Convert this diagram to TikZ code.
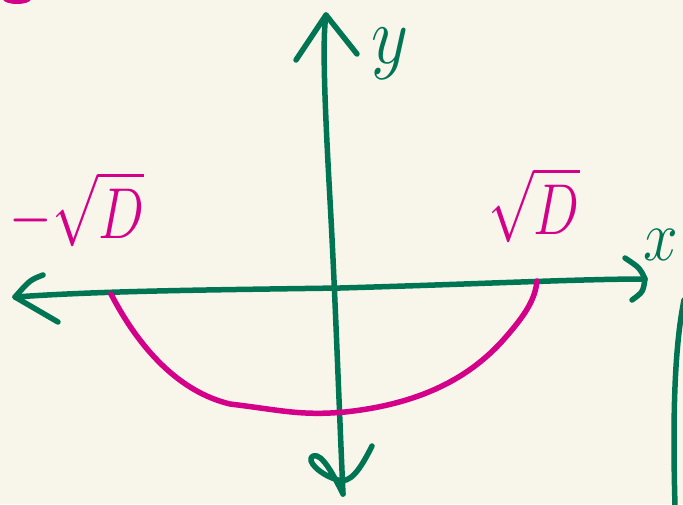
\documentclass[tikz,border=0pt]{standalone}
\usepackage{amsmath}
\usepackage{graphicx}
\usepackage{tikz}
\usetikzlibrary{positioning}
\definecolor{paper}{RGB}{248,246,234}
\definecolor{inkgreen}{RGB}{0,117,84}
\definecolor{inkpink}{RGB}{212,0,138}
\tikzset{
  axisline/.style={draw=inkgreen, line width=5.5pt, line cap=round, line join=round},
  arc/.style={draw=inkpink, line width=5.5pt, line cap=round, line join=round},
  axislabel/.style={text=inkgreen, inner sep=1pt, font=\Huge},
  rootlabel/.style={text=inkpink, inner sep=0pt, font=\Huge}
}

\begin{document}
\begin{tikzpicture}[x=1pt, y=-1pt]
  \fill[paper] (0,0) rectangle (683,504);
  \useasboundingbox (0,0) rectangle (683,504);
  % axes
  \coordinate (ytop) at (326,15);
  \coordinate (ybot) at (343,494);
  \coordinate (xleft) at (15,297);
  \coordinate (xright) at (645,279);
  \draw[axisline] (ybot) .. controls (338,380) and (335,290) .. (330,200)
                 .. controls (325,110) and (322,40) .. (ytop);
  \draw[axisline] (xleft) .. controls (100,291) and (200,290) .. (340,288)
                 .. controls (480,284) and (580,279) .. (xright);
  % arrow heads
  \draw[axisline] (296,60) -- (ytop) -- (357,54);
  \draw[axisline] (43,275) .. controls (30,280) .. (xleft) -- (58,322);
  \draw[axisline] (625,258) .. controls (640,268) .. (xright) .. controls (643,292) .. (632,300);
  \draw[axisline] (372,446) .. controls (360,470) and (350,484) .. (338,480)
                 .. controls (320,475) and (305,460) .. (313,456)
                 .. controls (322,452) and (335,478) .. (ybot);
  % lower half circle
  \draw[arc] (111,294) .. controls (140,350) and (180,392) .. (230,404)
            .. controls (280,410) and (300,416) .. (345,412)
            .. controls (420,404) and (470,378) .. (505,338)
            .. controls (525,315) and (535,300) .. (537,281);
  % stray marks at the edges
  \begin{scope}
    \clip (0,0) rectangle (683,504);
    \fill[inkpink] (17,-1) ellipse [x radius=14, y radius=5];
    \draw[axisline] (684,300) .. controls (676,340) and (672,400) .. (675,506);
  \end{scope}
  % labels
  \node[axislabel] (ylab) at (390,54) {\scalebox{2.9}[3.3]{$y$}};
  \node[axislabel] (xlab) at (661,245) {\scalebox{2.5}[2.9]{$x$}};
  \node[rootlabel] (negroot) at (77,209) {\scalebox{2.2}[2.9]{$-\sqrt{D}$}};
  \node[rootlabel] (posroot) at (534,205) {\scalebox{2.2}[2.9]{$\sqrt{D}$}};
\end{tikzpicture}
\end{document}
